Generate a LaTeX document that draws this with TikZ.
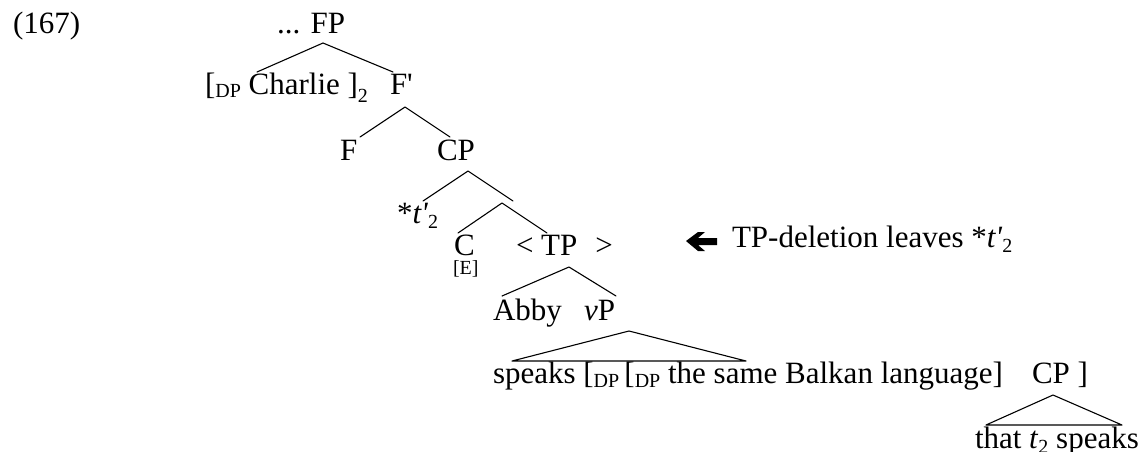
\documentclass[tikz,border=0pt]{standalone}
\usepackage{fontspec}
\setmainfont{Liberation Serif}[Ligatures=TeXOff]
\newcommand\lsub[2][5pt]{\raisebox{-#1}{\fontsize{20}{20}\selectfont #2}}
\begin{document}
\begin{tikzpicture}[x=1pt,y=-1pt,
  lbl/.style={anchor=base west,inner sep=0pt,outer sep=0pt,font=\fontsize{31}{37}\selectfont},
  small/.style={anchor=base west,inner sep=0pt,outer sep=0pt,font=\fontsize{20}{22}\selectfont},
  branch/.style={line width=1.1pt,line cap=round,line join=round}]
\useasboundingbox (0,0) rectangle (1146,451);

% labels
\node[lbl] (ex) at (13,33) {(167)};
\node[lbl] (fp) at (277,33) {... FP};
\node[lbl] (charlie) at (205,94) {[\lsub[3pt]{DP} Charlie ]\lsub[8pt]{2}};
\node[lbl] (fbar) at (390,94) {F'};
\node[lbl] (f) at (340,160) {F};
\node[lbl] (cp) at (437,160) {CP};
\node[lbl] (trace) at (397,223) {*\textit{t'}\lsub{2}};
\coordinate (cbar) at (513,201);
\node[lbl] (c) at (454,255) {C};
\node[small] (e) at (453,274) {[E]};
\node[lbl] (tp) at (516,255) {< TP\hspace{18pt}>};
\node[lbl] (abby) at (493,320) {Abby};
\node[lbl] (vp) at (584,320) {\textit{v}P};
\node[lbl] (speaks) at (493,383) {speaks [\lsub[4pt]{DP}\,[\lsub[4pt]{DP} the same Balkan language]};
\node[lbl] (cpl) at (1032,383) {CP ]};
\node[lbl] (that) at (975,448) {that \textit{t}\lsub{2} speaks};
\node[lbl] (note) at (732,247) {TP-deletion leaves *\textit{t'}\lsub{2}};

% arrow
\fill (686,241) -- (698,232) -- (705,232) -- (698,238) -- (717,238) -- (717,245)
  -- (698,245) -- (705,251) -- (698,251) -- cycle;

% branches
\draw[branch] ([shift={(52,-22)}]charlie.base west) -- ([shift={(46,10)}]fp.base west)
  -- ([shift={(3,-22)}]fbar.base west);
\draw[branch] ([shift={(20,-23)}]f.base west) -- ([shift={(15,13)}]fbar.base west)
  -- ([shift={(13,-23)}]cp.base west);
\draw[branch] ([shift={(26,-22)}]trace.base west) -- ([shift={(31,11)}]cp.base west)
  -- (cbar);
\draw[branch] ([shift={(4,-22)}]c.base west) -- ([shift={(-11,2)}]cbar)
  -- ([shift={(31,-22)}]tp.base west);
\draw[branch] ([shift={(9,-24)}]abby.base west) -- ([shift={(53,12)}]tp.base west)
  -- ([shift={(32,-24)}]vp.base west);
\draw[branch] ([shift={(19,-22)}]speaks.base west) -- ([shift={(45,11)}]vp.base west)
  -- ([shift={(253,-22)}]speaks.base west) -- cycle;
\draw[branch] ([shift={(11,-23)}]that.base west) -- ([shift={(21,12)}]cpl.base west)
  -- ([shift={(147,-23)}]that.base west) -- cycle;
\end{tikzpicture}
\end{document}
